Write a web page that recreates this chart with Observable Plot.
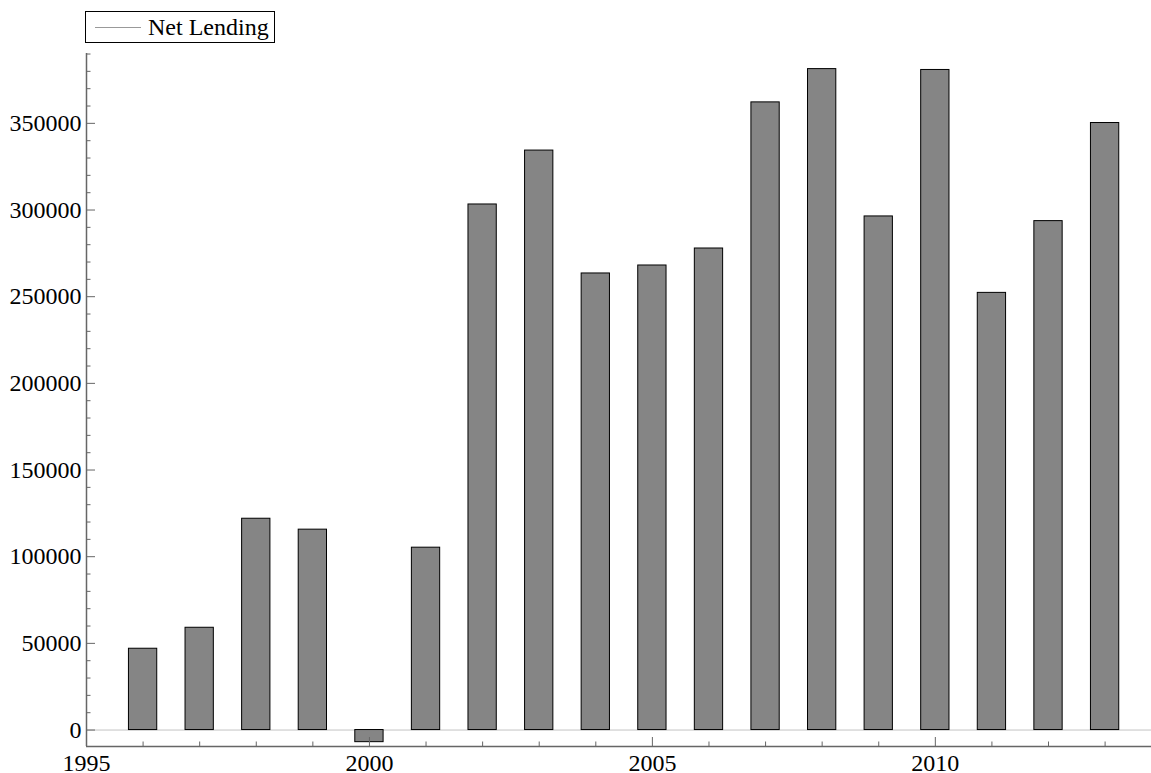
<!DOCTYPE html>
<html>
<head>
<meta charset="utf-8">
<script src="https://cdn.jsdelivr.net/npm/d3@7"></script>
<script src="https://cdn.jsdelivr.net/npm/@observablehq/plot@0.6"></script>
<style>
  body { margin: 0; background: #fff; font-family: "Liberation Serif", "DejaVu Serif", serif; }
  #top { position: relative; height: 48px; }
  #legend {
    position: absolute; left: 85px; top: 11px; width: 190px; height: 32px;
    box-sizing: border-box; border: 1px solid #000; background: #fff;
  }
  #legend .swatch { position: absolute; left: 9px; top: 15px; width: 46px; height: 0; border-top: 1px solid #999; }
  #legend .label { position: absolute; left: 62px; top: 0; line-height: 30px; font-size: 24px; color: #000; white-space: nowrap; }
  svg { display: block; }
  #chart svg, #chart svg text { font-family: "Liberation Serif", "DejaVu Serif", serif !important; }
</style>
</head>
<body>
<div id="top">
  <div id="legend"><span class="swatch"></span><span class="label">Net Lending</span></div>
</div>
<div id="chart"></div>
<script>
// Annual net lending
const years = [1996, 1997, 1998, 1999, 2000, 2001, 2002, 2003, 2004, 2005, 2006, 2007, 2008, 2009, 2010, 2011, 2012, 2013];
const netLending = [46900, 59000, 121900, 115600, -7000, 105200, 303200, 334300, 263400, 268000, 277800, 362100, 381300, 296300, 380800, 252200, 293600, 350200];

// Axis ticks
const xMajorTicks = [1995, 2000, 2005, 2010];
const xMinorTicks = [1996, 1997, 1998, 1999, 2001, 2002, 2003, 2004, 2006, 2007, 2008, 2009, 2011, 2012, 2013];
const yMajorTicks = [0, 50000, 100000, 150000, 200000, 250000, 300000, 350000];
const yMinorTicks = [10000, 20000, 30000, 40000, 60000, 70000, 80000, 90000, 110000, 120000, 130000, 140000,
  160000, 170000, 180000, 190000, 210000, 220000, 230000, 240000, 260000, 270000, 280000, 290000,
  310000, 320000, 330000, 340000, 360000, 370000, 380000, 390000];

const xDomain = [1995, 2013.82];
const yDomain = [-9500, 390300];

const data = years.map((year, i) => ({year, value: netLending[i]}));

const W = 1151, H = 725;
const mTop = 5, mBottom = 27, mLeft = 86, mRight = 0;
const frameH = H - mTop - mBottom;
const frameW = W - mLeft - mRight;
const axisColor = "#666";

const chart = Plot.plot({
  width: W,
  height: H,
  marginTop: mTop,
  marginBottom: mBottom,
  marginLeft: mLeft,
  marginRight: mRight,
  style: "font-family: 'Liberation Serif', 'DejaVu Serif', serif; font-size: 24px; color: #000; background: #fff; overflow: visible;",
  x: {type: "linear", domain: xDomain},
  y: {domain: yDomain},
  marks: [
    // zero baseline
    Plot.ruleY([0], {stroke: "#c4c4c4", strokeWidth: 1}),
    // bars, half a year wide, centred on each year
    Plot.rectY(data, {
      x1: d => d.year - 0.25,
      x2: d => d.year + 0.25,
      y1: 0,
      y2: "value",
      fill: "#858585",
      stroke: "#000",
      strokeWidth: 1
    }),
    // inward ticks along the bottom axis
    Plot.ruleX(xMajorTicks, {stroke: axisColor, insetTop: frameH - 9}),
    Plot.ruleX(xMinorTicks, {stroke: axisColor, insetTop: frameH - 4.5}),
    // inward ticks along the left axis
    Plot.ruleY(yMajorTicks, {stroke: axisColor, insetRight: frameW - 9}),
    Plot.ruleY(yMinorTicks, {stroke: axisColor, insetRight: frameW - 4.5}),
    // axis lines
    Plot.ruleY([yDomain[0]], {stroke: axisColor, strokeWidth: 1.5}),
    Plot.ruleX([xDomain[0]], {stroke: axisColor, strokeWidth: 1.5}),
    // tick labels
    Plot.axisX({ticks: xMajorTicks, tickSize: 0, tickPadding: 7, tickFormat: d3.format("d"), label: null}),
    Plot.axisY({ticks: yMajorTicks, tickSize: 0, tickPadding: 5, tickFormat: d3.format("d"), label: null})
  ]
});

document.getElementById("chart").appendChild(chart);
</script>
</body>
</html>
